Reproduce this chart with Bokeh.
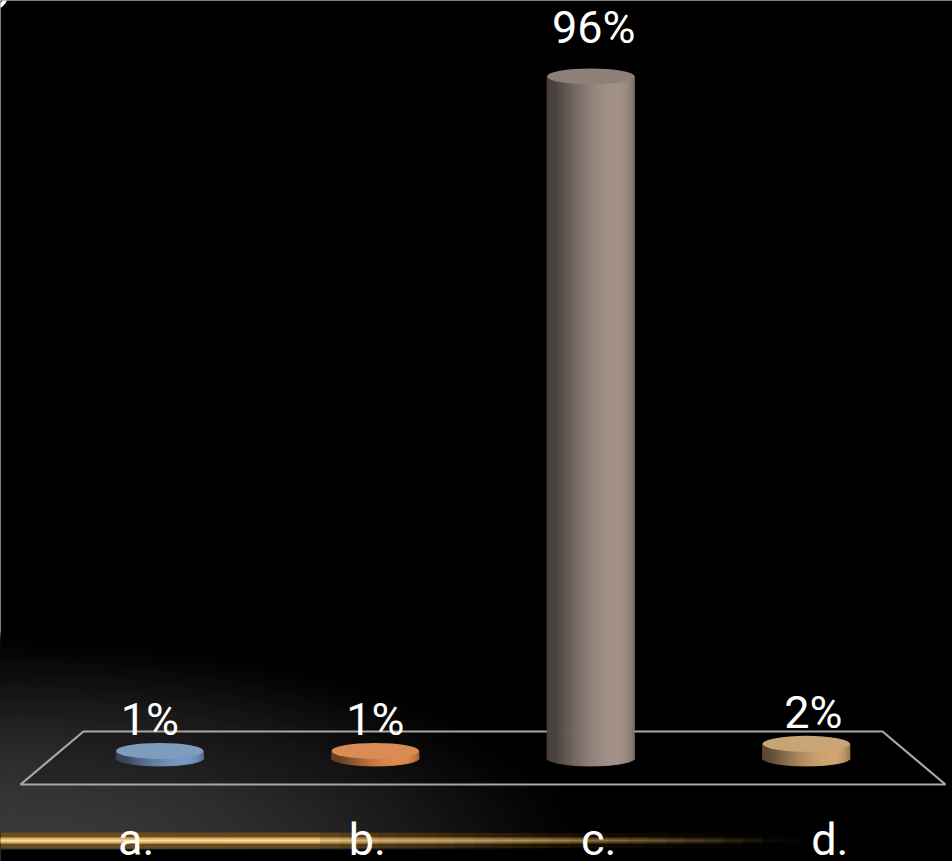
import numpy as np
from bokeh.plotting import figure
from bokeh.models import Range1d
from bokeh.core.properties import value
from bokeh.embed import file_html
from bokeh.resources import INLINE

# ---- data -------------------------------------------------------------
categories = ["a.", "b.", "c.", "d."]
shares = [1, 1, 96, 2]                      # percent of answers
value_labels = [f"{v}%" for v in shares]

# cylinder colours: flat cap colour and base colour of the shaded side
cap_colors = ["#7f9cbe", "#d98d55", "#8e8078", "#c8a577"]
side_rgb = [(110, 140, 178), (206, 128, 72), (150, 134, 126), (192, 152, 106)]

# ---- canvas / scale set-up -------------------------------------------
W, H = 952, 861
PX_X = 215.5          # pixels per category slot
PX_Y = 7.1            # pixels per percentage point
x_lo = -51.5 / PX_X
x_hi = x_lo + W / PX_X
y_lo = -103.5 / PX_Y
y_hi = y_lo + H / PX_Y
TEXT_LIFT = -18       # baseline correction for the svg text layout, px


def sx(px):
    return x_lo + np.asarray(px, dtype=float) / PX_X


def sy(px):
    return y_hi - np.asarray(px, dtype=float) / PX_Y


n = len(categories)
mid = n / 2.0
DEPTH = 0.073                 # perspective shrink/grow of back/front edges
FLOOR_HALF = 26.5 / PX_Y      # half depth of the floor, in % units
BAR_W = 0.405                 # cylinder diameter, category units
CAP_H = 16.0 / PX_Y           # height of the elliptical caps, % units

p = figure(width=W, height=H,
           x_range=Range1d(x_lo, x_hi), y_range=Range1d(y_lo, y_hi),
           x_axis_type=None, y_axis_type=None,
           output_backend="svg", toolbar_location=None,
           min_border=0, background_fill_color="black",
           border_fill_color="black", outline_line_color=None)

# ---- backdrop: soft grey glow in the lower-left corner -----------------
d = np.linspace(1.0, 0.02, 70)                       # relative radius
level = (58 * np.clip(1 - d ** 2, 0, 1) ** 1.3).astype(int)
glow_cols = ["#%02x%02x%02x" % (c, c, c) for c in level]
p.ellipse(x=[float(sx(0))] * len(d), y=[float(sy(852))] * len(d),
          width=2 * 600 * d / PX_X, height=2 * 220 * d / PX_Y,
          fill_color=glow_cols, line_color=None)

# black strip under the golden rule
p.quad(left=[x_lo], right=[x_hi], bottom=[y_lo], top=[float(sy(849))],
       fill_color="black", line_color=None)

# golden rule: stacked strokes of decreasing length give a smooth fade
ends_px = np.linspace(800, 320, 26)                   # longest first
target = np.clip(1.0 - (ends_px - 320) / 480.0, 0.02, 0.999)
alphas = []
prev = 0.0
for c in target:
    alphas.append(1 - (1 - c) / (1 - prev))
    prev = c
rule_y = float(sy(840))
for end, a in zip(ends_px, alphas):
    xs = [float(sx(0)), float(sx(end))]
    ys = [rule_y, rule_y]
    p.line(xs, ys, line_color="#6e4f22", line_alpha=a * 0.55, line_width=16)
    p.line(xs, ys, line_color="#dcae60", line_alpha=a, line_width=6)
    p.line(xs, ys, line_color="#fbe8b8", line_alpha=a * 0.85, line_width=2)

# small white arc peeking in at the top-left corner
p.arc(x=[float(sx(-9))], y=[float(sy(-7))], radius=15 / PX_X,
      start_angle=-np.pi / 2, end_angle=0.0,
      line_color="white", line_width=4)

# ---- floor -------------------------------------------------------------
floor_x = [mid - mid * (1 - DEPTH), mid + mid * (1 - DEPTH),
           mid + mid * (1 + DEPTH), mid - mid * (1 + DEPTH)]
floor_y = [FLOOR_HALF, FLOOR_HALF, -FLOOR_HALF, -FLOOR_HALF]
p.patch(x=floor_x, y=floor_y, fill_color="black", fill_alpha=0.2,
        line_color="#a8a8a8", line_width=2.2)

# ---- cylinders ---------------------------------------------------------
N_STRIPS = 44
for i, v in enumerate(shares):
    xc = i + 0.5
    edges = xc + np.linspace(-BAR_W / 2, BAR_W / 2, N_STRIPS + 1)
    mids = 0.5 * (edges[:-1] + edges[1:])
    u = (mids - xc) / (BAR_W / 2)
    theta = np.arcsin(np.clip(u, -1, 1))
    light = 0.5 + 0.6 * np.clip(np.cos(theta - np.radians(32)), 0, None) ** 1.4
    r, g, b = side_rgb[i]
    cols = ["#%02x%02x%02x" % (min(255, int(r * s)), min(255, int(g * s)),
                               min(255, int(b * s))) for s in light]
    k = (CAP_H / 2) * np.sqrt(np.clip(1 - u ** 2, 0, 1))
    p.quad(left=edges[:-1], right=edges[1:], bottom=-k,
           top=np.full(N_STRIPS, float(v)),
           fill_color=cols, line_color=cols, line_width=0.8)
    p.ellipse(x=[xc], y=[v], width=BAR_W, height=CAP_H,
              fill_color=cap_colors[i], line_color=None)

# ---- value labels ------------------------------------------------------
p.text(x=[i + 0.5 for i in range(n)], y=shares, text=value_labels,
       x_offset=[-10, 0, 3, 7],
       y_offset=[o + TEXT_LIFT for o in (-13, -13, -31, -13)],
       text_align="center", text_baseline="alphabetic",
       text_color="white", text_font=value("Roboto"),
       text_font_size="45px")

# ---- category labels along the front edge ------------------------------
cat_x = [mid + (i + 0.5 - mid) * (1 + DEPTH) for i in range(n)]
p.text(x=cat_x, y=[float(sy(857))] * n, text=categories,
       y_offset=TEXT_LIFT,
       text_align="center", text_baseline="alphabetic",
       text_color="white", text_font=value("Roboto"),
       text_font_size="45px")

html = file_html(p, INLINE)
html = html.replace("<body>", '<body style="margin:0;background:#000000">', 1)
open("out.html", "w").write(html)
